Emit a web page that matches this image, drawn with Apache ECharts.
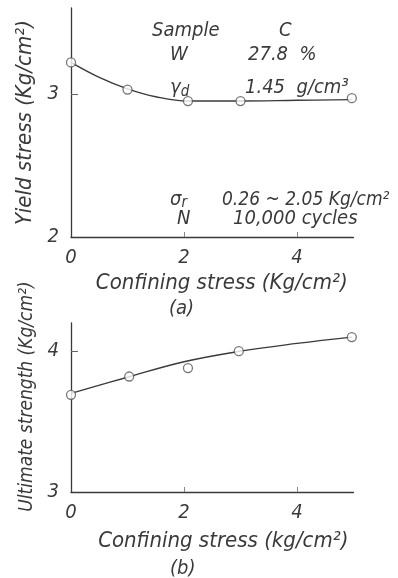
<!DOCTYPE html>
<html>
<head>
<meta charset="utf-8">
<script src="https://cdn.jsdelivr.net/npm/echarts@6/dist/echarts.min.js"></script>
<style>
  html, body { margin: 0; padding: 0; background: #fff; }
  #chart { width: 398px; height: 578px; }
</style>
</head>
<body>
<div id="chart"></div>
<script>
// Measured points: yield stress vs confining stress (a)
const yieldX = [0, 1, 2.07, 3, 4.97];
const yieldY = [3.22, 3.03, 2.95, 2.95, 2.97];
// Hand-drawn fitted curve through the yield points
const yieldCurveX = [0, 0.5, 1, 1.5, 2.07, 3, 4, 4.97];
const yieldCurveY = [3.22, 3.115, 3.035, 2.98, 2.95, 2.95, 2.955, 2.96];

// Measured points: ultimate strength vs confining stress (b)
const ultX = [0, 1.03, 2.07, 2.97, 4.97];
const ultY = [3.69, 3.82, 3.88, 4.0, 4.10];
// Fitted curve through the ultimate strength points
const ultCurveX = [0, 1, 2, 3, 4, 4.97];
const ultCurveY = [3.70, 3.815, 3.925, 4.0, 4.055, 4.10];

// Tick labels
const xTicks = [0, 2, 4];
const yieldTicks = [2, 3];
const ultTicks = [3, 4];

const pairs = (xs, ys) => xs.map((x, i) => [x, ys[i]]);

const INK = '#3a3a3a';
const FONT = "'Liberation Sans Narrow', 'DejaVu Sans Condensed', sans-serif";
const txt = (size) => ({ color: INK, fontFamily: FONT, fontStyle: 'italic', fontSize: size });

function xAxis(gridIndex, title, gap, shift) {
  return {
    type: 'value', gridIndex, min: 0, max: 5,
    name: title, nameLocation: 'middle', nameGap: gap,
    nameTextStyle: Object.assign(txt(22), { padding: [0, 0, 0, shift] }),
    axisLine: { lineStyle: { color: INK, width: 1.3 } },
    axisTick: { inside: true, length: 5, customValues: [2, 4], lineStyle: { color: '#888' } },
    axisLabel: Object.assign(txt(20), { margin: 11, customValues: xTicks }),
    splitLine: { show: false }
  };
}

function yAxis(gridIndex, min, max, ticks, title, gap, shift, size) {
  return {
    type: 'value', gridIndex, min, max,
    name: title, nameLocation: 'middle', nameGap: gap,
    nameTextStyle: Object.assign(txt(size), { padding: [0, 0, 0, shift] }),
    axisLine: { lineStyle: { color: INK, width: 1.3 } },
    axisTick: { inside: true, length: 7, customValues: [ticks[1]], lineStyle: { color: '#666' } },
    axisLabel: Object.assign(txt(20), { margin: 12, customValues: ticks }),
    splitLine: { show: false }
  };
}

const curveStyle = { color: INK, width: 1.4 };
const pointStyle = { color: '#fff', borderColor: '#555', borderWidth: 1.3 };

// left-aligned, vertically centred annotation text
function note(x, y, text, size) {
  return {
    type: 'text', x, y,
    style: { text, fill: INK, font: 'italic ' + (size || 20) + 'px ' + FONT, align: 'left', verticalAlign: 'middle' }
  };
}
function subNote(x, y, main, sub, dy) {
  return {
    type: 'text', x, y,
    style: {
      text: '{g|' + main + '}{s|' + sub + '}', fill: INK, align: 'left', verticalAlign: 'middle',
      rich: {
        g: { fontSize: 20, fontFamily: FONT, fontStyle: 'italic', fill: INK },
        s: { fontSize: 15, fontFamily: FONT, fontStyle: 'italic', fill: INK, padding: [dy, 0, 0, 0] }
      }
    }
  };
}

const option = {
  backgroundColor: '#fff',
  animation: false,
  grid: [
    { left: 71, top: 8, width: 282.5, height: 229 },
    { left: 71, top: 323, width: 282.5, height: 169 }
  ],
  xAxis: [
    xAxis(0, 'Confining stress (Kg/cm²)', 35, 19),
    xAxis(1, 'Confining stress (kg/cm²)', 38, 22)
  ],
  yAxis: [
    yAxis(0, 2, 3.6, yieldTicks, 'Yield stress (Kg/cm²)', 32, 0, 22),
    yAxis(1, 3, 4.2, ultTicks, 'Ultimate strength (Kg/cm²)', 34, 22, 19)
  ],
  series: [
    {
      type: 'line', xAxisIndex: 0, yAxisIndex: 0, smooth: 0.4,
      showSymbol: false, lineStyle: curveStyle, z: 2,
      data: pairs(yieldCurveX, yieldCurveY)
    },
    {
      type: 'scatter', xAxisIndex: 0, yAxisIndex: 0,
      symbol: 'circle', symbolSize: 9, itemStyle: pointStyle, z: 3,
      data: pairs(yieldX, yieldY)
    },
    {
      type: 'line', xAxisIndex: 1, yAxisIndex: 1, smooth: 0.4,
      showSymbol: false, lineStyle: curveStyle, z: 2,
      data: pairs(ultCurveX, ultCurveY)
    },
    {
      type: 'scatter', xAxisIndex: 1, yAxisIndex: 1,
      symbol: 'circle', symbolSize: 9, itemStyle: pointStyle, z: 3,
      data: pairs(ultX, ultY)
    }
  ],
  graphic: [
    // test conditions in panel (a)
    note(152, 31, 'Sample'),
    note(279, 31, 'C'),
    note(170, 55, 'W'),
    note(248, 55, '27.8  %'),
    subNote(170, 88, 'γ', 'd', 8),
    note(245, 88, '1.45  g/cm³'),
    subNote(170, 200, 'σ', 'r', 6),
    note(222, 200, '0.26 ~ 2.05 Kg/cm²', 19),
    note(177, 219, 'N'),
    note(233, 219, '10,000 cycles'),
    // panel captions
    note(169, 309, '(a)'),
    note(170, 569, '(b)')
  ]
};

echarts.init(document.getElementById('chart'), null, { renderer: 'canvas' }).setOption(option);
</script>
</body>
</html>
